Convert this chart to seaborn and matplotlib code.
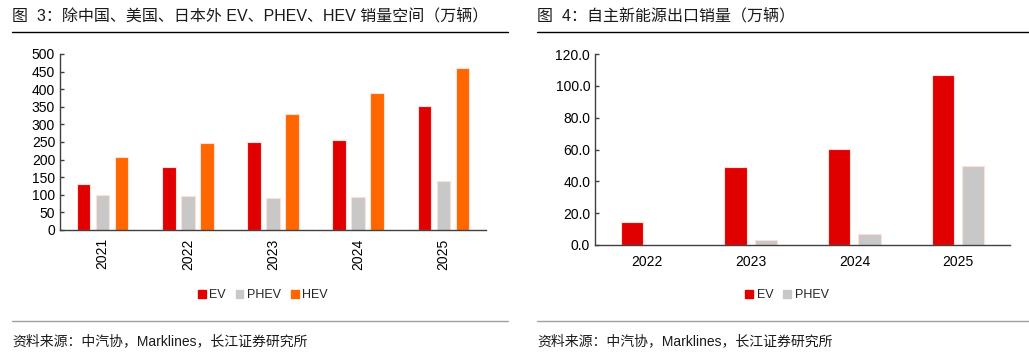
import numpy as np
import pandas as pd
import matplotlib
matplotlib.use('Agg')
import matplotlib.pyplot as plt
from matplotlib.lines import Line2D
from matplotlib.patches import Patch
from matplotlib.ticker import FormatStrFormatter
import seaborn as sns

# 图3 数据
years_l = ['2021', '2022', '2023', '2024', '2025']
ev_l = [130, 180, 250, 256, 353]
phev_l = [100, 97, 90, 95, 139]
hev_l = [208, 246, 330, 390, 461]

# 图4 数据
years_r = ['2022', '2023', '2024', '2025']
ev_r = [14.7, 49.0, 60.1, 107.0]
phev_r = [0.0, 2.9, 7.1, 49.4]

colors = {'EV': '#E00000', 'PHEV': '#C8C8C8', 'HEV': '#FF6600'}

sns.set_style('white')
plt.rcParams['font.family'] = ['Liberation Sans', 'Noto Sans CJK SC', 'DejaVu Sans']

df_l = pd.DataFrame({'year': years_l * 3,
                     'type': ['EV'] * 5 + ['PHEV'] * 5 + ['HEV'] * 5,
                     'val': ev_l + phev_l + hev_l})
df_r = pd.DataFrame({'year': years_r * 2,
                     'type': ['EV'] * 4 + ['PHEV'] * 4,
                     'val': ev_r + phev_r})

fig = plt.figure(figsize=(10.29, 3.6), dpi=100)
W, H = 1029, 360


def fx(px):
    return px / W


def fy(py):
    return 1 - py / H


ax1 = fig.add_axes([fx(60), fy(230), fx(426), 176 / H])
ax2 = fig.add_axes([fx(595), fy(245), fx(415), 191 / H])

sns.barplot(data=df_l, x='year', y='val', hue='type', palette=colors, saturation=1,
            width=0.67, gap=0.28, edgecolor='#FFE0D8', linewidth=0.8,
            legend=False, ax=ax1)
sns.barplot(data=df_r, x='year', y='val', hue='type', palette=colors, saturation=1,
            width=0.58, gap=0.26, edgecolor='#FFE0D8', linewidth=0.8,
            legend=False, ax=ax2)


def style_axes(ax, n):
    ax.set_xlabel('')
    ax.set_ylabel('')
    for s in ['top', 'right']:
        ax.spines[s].set_visible(False)
    for s in ['left', 'bottom']:
        ax.spines[s].set_color('#404040')
        ax.spines[s].set_linewidth(1.0)
    ax.set_xlim(-0.5, n - 0.5)
    ax.set_xticks(np.arange(-0.5, n, 1.0), minor=True)
    ax.tick_params(axis='x', which='major', length=0, labelsize=10, colors='#000000')
    ax.tick_params(axis='x', which='minor', direction='in', length=4, width=1, color='#404040')
    ax.tick_params(axis='y', direction='in', length=3, width=1, color='#404040',
                   labelsize=10, labelcolor='#000000', left=True)


style_axes(ax1, len(years_l))
ax1.set_ylim(0, 500)
ax1.set_yticks(np.arange(0, 501, 50))
for lab in ax1.get_xticklabels():
    lab.set_rotation(90)
ax1.tick_params(axis='x', which='major', pad=6)

style_axes(ax2, len(years_r))
ax2.set_ylim(0, 120)
ax2.set_yticks(np.arange(0, 121, 20))
ax2.yaxis.set_major_formatter(FormatStrFormatter('%.1f'))
ax2.tick_params(axis='x', which='major', pad=7)

# 图例
h1 = [Patch(color=colors[k]) for k in ['EV', 'PHEV', 'HEV']]
fig.legend(h1, ['EV', 'PHEV', 'HEV'], loc='center', bbox_to_anchor=(fx(263), fy(295)),
           ncol=3, frameon=False, fontsize=9, handlelength=0.6, handleheight=0.6,
           handletextpad=0.3, columnspacing=0.8)
h2 = [Patch(color=colors[k]) for k in ['EV', 'PHEV']]
fig.legend(h2, ['EV', 'PHEV'], loc='center', bbox_to_anchor=(fx(787), fy(295)),
           ncol=2, frameon=False, fontsize=9, handlelength=0.6, handleheight=0.6,
           handletextpad=0.3, columnspacing=0.8)

# 标题与分隔线
fig.text(fx(12), fy(16), '图  3：除中国、美国、日本外 EV、PHEV、HEV 销量空间（万辆）',
         fontsize=11.5, va='center', ha='left', color='#1a1a1a')
fig.text(fx(537), fy(16), '图  4：自主新能源出口销量（万辆）',
         fontsize=11.5, va='center', ha='left', color='#1a1a1a')
fig.add_artist(Line2D([fx(12), fx(508)], [fy(31.5), fy(31.5)], color='black', lw=1.0))
fig.add_artist(Line2D([fx(537), fx(1029)], [fy(31.5), fy(31.5)], color='black', lw=1.0))
fig.add_artist(Line2D([fx(12), fx(508)], [fy(321), fy(321)], color='#A0A0A0', lw=1.0))
fig.add_artist(Line2D([fx(537), fx(1029)], [fy(321), fy(321)], color='#A0A0A0', lw=1.0))

fig.text(fx(12), fy(341), '资料来源：中汽协，Marklines，长江证券研究所',
         fontsize=10, va='center', ha='left', color='#1a1a1a')
fig.text(fx(537), fy(341), '资料来源：中汽协，Marklines，长江证券研究所',
         fontsize=10, va='center', ha='left', color='#1a1a1a')

fig.savefig('out.png', dpi=100)
